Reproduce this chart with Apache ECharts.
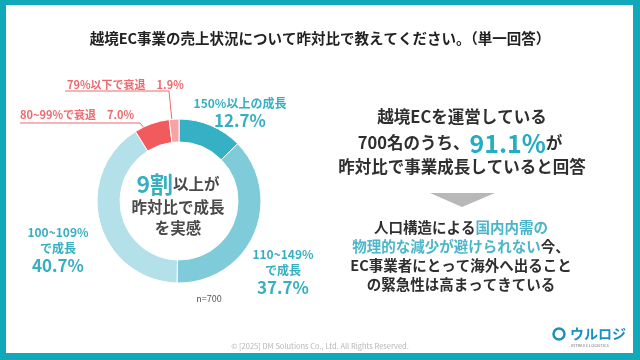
<!DOCTYPE html>
<html><head><meta charset="utf-8">
<script src="https://cdn.jsdelivr.net/npm/echarts@6/dist/echarts.min.js"></script>
<style>html,body{margin:0;padding:0;background:#10a9b9;}#c{width:640px;height:360px;}</style>
</head><body><div id="c"></div>
<script>
const categories = ['150%以上の成長', '110~149%で成長', '100~109%で成長', '80~99%で衰退', '79%以下で衰退'];
const shares = [12.7, 37.7, 40.7, 7.0, 1.9];
const sliceColors = ['#35b0c4', '#7fcbda', '#b4e0ea', '#f25b5e', '#f7a3a6'];
const titleText = '越境EC事業の売上状況について昨対比で教えてください。（単一回答）';
const sampleNote = 'n=700';
const growthShare = '91.1%';

const FONT = '"Noto Sans CJK JP", "Noto Sans", sans-serif';
const TEAL = '#37afc3';
const RED = '#ee6a6e';
const DARK = '#2f2f2f';

function labelText(p) {
  const i = p.dataIndex, n = categories[i], v = shares[i].toFixed(1) + '%';
  if (i === 0) return '{n|' + n + '}\n{v|' + v + '}';
  if (i === 1 || i === 2) {
    const k = n.indexOf('で');
    return '{n|' + n.slice(0, k) + '}\n{s|' + n.slice(k) + '}\n{v|' + v + '}';
  }
  return '{r|' + n + '　' + v + '}';
}

const labelPos = {
  0: {x: 240, y: 113, align: 'center', verticalAlign: 'middle'},
  1: {x: 283, y: 272, align: 'center', verticalAlign: 'middle'},
  2: {x: 58, y: 250, align: 'center', verticalAlign: 'middle'},
  3: {x: 20, y: 115, align: 'left', verticalAlign: 'middle', labelLinePoints: [[145, 129], [140, 123], [20, 123]]},
  4: {x: 67, y: 85, align: 'left', verticalAlign: 'middle', labelLinePoints: [[172, 121], [169, 91], [65, 91]]}
};

const chart = echarts.init(document.getElementById('c'), null, {renderer: 'canvas'});
chart.setOption({
  backgroundColor: '#10a9b9',
  animation: false,
  title: {
    text: titleText, left: 'center', top: 26,
    textStyle: {fontFamily: FONT, fontSize: 14.5, fontWeight: 'bold', color: '#222'}
  },
  graphic: [
    {type: 'rect', z: -10, silent: true, shape: {x: 6, y: 5, width: 627, height: 348}, style: {fill: '#ffffff'}},
    {type: 'text', x: 178, y: 205, style: {
      text: '{big|9割}{a|以上が}\n{a|昨対比で成長}\n{a|を実感}',
      align: 'center', verticalAlign: 'middle', fontFamily: FONT,
      rich: {
        big: {fontSize: 23, fontWeight: 'bold', fill: TEAL, lineHeight: 26, fontFamily: FONT},
        a: {fontSize: 15.5, fontWeight: 'bold', fill: '#4a4a4a', lineHeight: 21, fontFamily: FONT}
      }
    }},
    {type: 'text', x: 209, y: 299, style: {text: sampleNote, align: 'center', verticalAlign: 'middle', fontSize: 9, fontFamily: FONT, fill: '#555'}},
    {type: 'text', x: 462, y: 117, style: {text: '越境ECを運営している', align: 'center', verticalAlign: 'middle', fontSize: 16.5, fontWeight: 'bold', fontFamily: FONT, fill: DARK}},
    {type: 'text', x: 460, y: 143, style: {
      text: '{a|700名のうち、}{b|' + growthShare + '}{a|が}', align: 'center', verticalAlign: 'middle',
      rich: {
        a: {fontSize: 16.5, fontWeight: 'bold', fill: DARK, fontFamily: FONT},
        b: {fontSize: 25, fontWeight: 'bold', fill: '#25adc3', fontFamily: FONT}
      }
    }},
    {type: 'text', x: 462, y: 167, style: {text: '昨対比で事業成長していると回答', align: 'center', verticalAlign: 'middle', fontSize: 16.5, fontWeight: 'bold', fontFamily: FONT, fill: DARK}},
    {type: 'polygon', shape: {points: [[430, 193], [495, 193], [462, 207]]}, style: {fill: '#b8b8b8'}},
    {type: 'text', x: 461, y: 256, style: {
      text: '{a|人口構造による}{t|国内内需の}\n{t|物理的な減少が避けられない}{a|今、}\n{a|EC事業者にとって海外へ出ること}\n{a|の緊急性は高まってきている}',
      align: 'center', verticalAlign: 'middle',
      rich: {
        a: {fontSize: 14.5, fontWeight: 'bold', fill: DARK, lineHeight: 19.3, fontFamily: FONT},
        t: {fontSize: 14.5, fontWeight: 'bold', fill: '#4bb6c9', lineHeight: 19.3, fontFamily: FONT}
      }
    }},
    {type: 'text', x: 320, y: 346, style: {text: '© [2025] DM Solutions Co., Ltd. All Rights Reserved.', align: 'center', verticalAlign: 'middle', fontSize: 7.5, fontFamily: FONT, fill: '#b5b5b5'}},
    {type: 'circle', shape: {cx: 559, cy: 334, r: 5.5}, style: {fill: 'none', stroke: '#1b8fc0', lineWidth: 2.5}},
    {type: 'text', x: 570, y: 334, style: {text: 'ウルロジ', verticalAlign: 'middle', fontSize: 14, fontWeight: 'bold', fontFamily: FONT, fill: '#1a8fc2'}},
    {type: 'text', x: 571, y: 345, style: {text: 'INTRA EC LOGISTICS', verticalAlign: 'middle', fontSize: 4, fontFamily: FONT, fill: '#777'}}
  ],
  series: [{
    type: 'pie',
    center: [179, 201],
    radius: [59, 82],
    startAngle: 90,
    clockwise: true,
    avoidLabelOverlap: false,
    itemStyle: {borderColor: '#ffffff', borderWidth: 1},
    label: {
      show: true, position: 'outside', formatter: labelText, fontFamily: FONT,
      rich: {
        n: {fontSize: 12, fontWeight: 'bold', color: TEAL, lineHeight: 16, align: 'center', fontFamily: FONT},
        s: {fontSize: 12, fontWeight: 'bold', color: TEAL, lineHeight: 15, align: 'center', fontFamily: FONT},
        v: {fontSize: 17, fontWeight: 'bold', color: TEAL, lineHeight: 20, align: 'center', fontFamily: FONT},
        r: {fontSize: 11, fontWeight: 'bold', color: RED, fontFamily: FONT}
      }
    },
    labelLine: {show: true, lineStyle: {color: RED, width: 1}},
    labelLayout: function (p) { return labelPos[p.dataIndex]; },
    emphasis: {disabled: true},
    data: categories.map((c, i) => ({
      name: c, value: shares[i],
      itemStyle: {color: sliceColors[i]},
      labelLine: {show: i >= 3}
    }))
  }]
});
</script></body></html>
